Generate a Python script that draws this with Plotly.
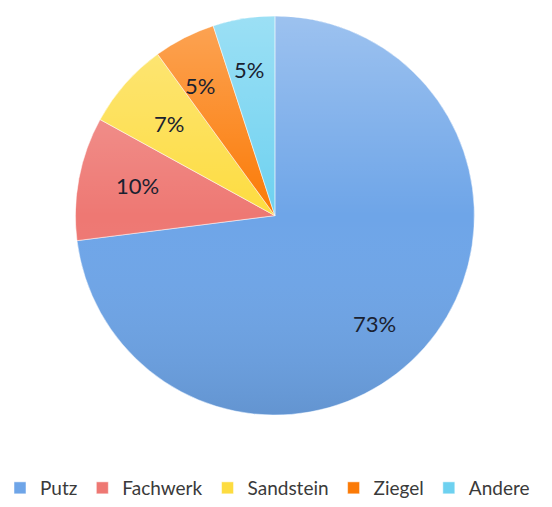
import math
import base64
import plotly.graph_objects as go

# Facade materials and their shares (percent)
materials = ["Putz", "Fachwerk", "Sandstein", "Ziegel", "Andere"]
shares = [73, 10, 7, 5, 5]
colors = ["#6ea5e8", "#ee7873", "#fddc40", "#fb7a06", "#6dd1f0"]

W, H = 552, 507
# pie placement (paper fractions)
dom_x = [0.1355, 0.8605]
dom_y = [0.178, 0.968]

fig = go.Figure(
    go.Pie(
        labels=materials,
        values=shares,
        sort=False,
        direction="clockwise",
        rotation=0,
        marker=dict(colors=colors, line=dict(color="rgba(255,255,255,0.5)", width=1)),
        textinfo="none",
        hoverinfo="label+percent",
        domain=dict(x=dom_x, y=dom_y),
    )
)

# soft vertical shading over the disc: lighter at the top, darker at the bottom
shade_svg = (
    '<svg xmlns="http://www.w3.org/2000/svg" width="400" height="400" viewBox="0 0 400 400">'
    '<defs><linearGradient id="g" x1="0" y1="0" x2="0" y2="1">'
    '<stop offset="0" stop-color="#ffffff" stop-opacity="0.32"/>'
    '<stop offset="0.5" stop-color="#ffffff" stop-opacity="0.0"/>'
    '<stop offset="1" stop-color="#000000" stop-opacity="0.10"/>'
    '</linearGradient></defs>'
    '<circle cx="200" cy="200" r="199.5" fill="url(#g)"/></svg>'
)
shade_uri = "data:image/svg+xml;base64," + base64.b64encode(shade_svg.encode()).decode()
fig.add_layout_image(
    source=shade_uri,
    xref="paper", yref="paper",
    x=dom_x[0], y=dom_y[1],
    sizex=dom_x[1] - dom_x[0], sizey=dom_y[1] - dom_y[0],
    xanchor="left", yanchor="top",
    sizing="stretch",
    layer="above",
)

# percentage labels placed along each slice's mid-angle
cx = (dom_x[0] + dom_x[1]) / 2
cy = (dom_y[0] + dom_y[1]) / 2
radius_px = (dom_x[1] - dom_x[0]) * W / 2
total = sum(shares)
cum = 0
for v in shares:
    mid = (cum + v / 2) / total * 2 * math.pi
    cum += v
    r = 0.82 * radius_px
    fig.add_annotation(
        x=cx + math.sin(mid) * r / W,
        y=cy + math.cos(mid) * r / H,
        xref="paper", yref="paper",
        text=f"{round(v / total * 100)}%",
        showarrow=False,
        font=dict(family="Lato", size=22, color="#1a2130"),
    )

fig.update_layout(
    width=W, height=H,
    margin=dict(l=0, r=0, t=0, b=0),
    paper_bgcolor="white",
    plot_bgcolor="white",
    showlegend=True,
    legend=dict(
        orientation="h",
        x=0.48, xanchor="center",
        y=0.033, yanchor="middle",
        font=dict(family="Lato", size=19, color="#3a3a3a"),
        traceorder="normal",
    ),
)

fig.write_html("out.html")
